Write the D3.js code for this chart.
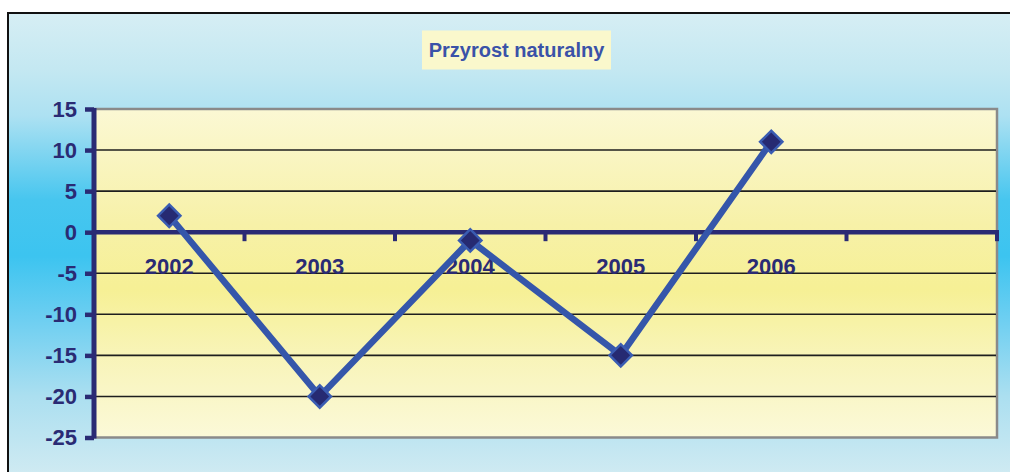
<!DOCTYPE html>
<html><head><meta charset="utf-8">
<script src="https://cdn.jsdelivr.net/npm/d3@7"></script>
<style>html,body{margin:0;padding:0;background:#fff;overflow:hidden}</style>
</head><body>
<svg id="c" width="1010" height="472"></svg>
<script>
const title = "Przyrost naturalny";
const categories = ["2002","2003","2004","2005","2006",""];
const years = ["2002","2003","2004","2005","2006"];
const values = [2, -20, -1, -15, 11];
const yTicks = [15, 10, 5, 0, -5, -10, -15, -20, -25];

const svg = d3.select("#c");
const defs = svg.append("defs");
const bg = defs.append("linearGradient").attr("id","bg").attr("gradientUnits","userSpaceOnUse")
  .attr("x1",0).attr("y1",13).attr("x2",0).attr("y2",480);
[[0,"#d6eef4"],[0.12,"#c4e8f2"],[0.22,"#ade1f2"],[0.4,"#47c6ef"],[0.52,"#3cc4f0"],[0.66,"#6fcff1"],[0.82,"#abdff0"],[1,"#d2ebf2"]]
  .forEach(([o,c])=>bg.append("stop").attr("offset",o).attr("stop-color",c));
const pg = defs.append("linearGradient").attr("id","pg").attr("gradientUnits","userSpaceOnUse")
  .attr("x1",0).attr("y1",109).attr("x2",0).attr("y2",437);
[[0,"#fbf8d4"],[0.35,"#f7f1a8"],[0.55,"#f6f095"],[0.75,"#f8f4b8"],[1,"#fbf9d8"]]
  .forEach(([o,c])=>pg.append("stop").attr("offset",o).attr("stop-color",c));

// chart background + frame
svg.append("rect").attr("x",8).attr("y",13).attr("width",1010).attr("height",480)
  .attr("fill","url(#bg)").attr("stroke","#111").attr("stroke-width",2);

const x = d3.scaleBand().domain(categories).range([94, 997]).paddingInner(0).paddingOuter(0);
const y = d3.scaleLinear().domain([-25, 15]).range([437.5, 109]);

// plot area
svg.append("rect").attr("x",94).attr("y",y(15)).attr("width",997-94).attr("height",y(-25)-y(15))
  .attr("fill","url(#pg)").attr("stroke","#8a8a8a").attr("stroke-width",2.5);

// gridlines
svg.append("g").selectAll("line").data(yTicks.filter(d=>d!==15 && d!==-25 && d!==0)).join("line")
  .attr("x1",94).attr("x2",996).attr("y1",d=>y(d)).attr("y2",d=>y(d))
  .attr("stroke","#1e1e1e").attr("stroke-width",1.6);

const navy = "#2a2b74";
const font = "Liberation Sans, Arial, sans-serif";
// y axis
const yAxis = d3.axisLeft(y).tickValues(yTicks).tickSize(9).tickPadding(8).tickFormat(d=>String(d));
const gy = svg.append("g").attr("transform","translate(94,0)").call(yAxis);
gy.select(".domain").attr("stroke",navy).attr("stroke-width",5).attr("d",`M0,${y(15)-1}V${y(-25)+1}`);
gy.selectAll(".tick line").attr("stroke",navy).attr("stroke-width",4.5);
gy.selectAll(".tick text").attr("fill",navy).attr("font-family",font)
  .attr("font-weight","bold").attr("font-size","22px");

// x axis at zero
const gx = svg.append("g").attr("transform",`translate(0,${y(0)})`);
gx.append("line").attr("x1",94).attr("x2",999).attr("y1",0).attr("y2",0)
  .attr("stroke",navy).attr("stroke-width",4.5);
const bounds = categories.map(c=>x(c)+x.bandwidth());
gx.selectAll("line.t").data(bounds).join("line").attr("class","t")
  .attr("x1",d=>d).attr("x2",d=>d).attr("y1",0).attr("y2",9)
  .attr("stroke",navy).attr("stroke-width",4);
gx.selectAll("text").data(categories.filter(c=>c!=="")).join("text")
  .attr("x",d=>x(d)+x.bandwidth()/2).attr("y",42)
  .attr("text-anchor","middle").attr("fill",navy)
  .attr("font-family",font).attr("font-weight","bold").attr("font-size","22px")
  .text(d=>d);

// line
const line = d3.line().x((d,i)=>x(years[i])+x.bandwidth()/2).y(d=>y(d));
svg.append("path").datum(values).attr("d",line).attr("fill","none")
  .attr("stroke","#3556aa").attr("stroke-width",6.5).attr("stroke-linejoin","miter");

// markers
const sym = d3.symbol().type(d3.symbolSquare).size(250);
svg.append("g").selectAll("path").data(values).join("path")
  .attr("d",sym)
  .attr("transform",(d,i)=>`translate(${x(years[i])+x.bandwidth()/2},${y(d)}) rotate(45)`)
  .attr("fill","#262a72").attr("stroke","#3a5cb2").attr("stroke-width",2.5);

// title
svg.append("rect").attr("x",422).attr("y",30.5).attr("width",189).attr("height",39).attr("fill","#faf8cc");
svg.append("text").attr("x",516.5).attr("y",57).attr("text-anchor","middle")
  .attr("fill","#3a52a8").attr("font-family",font)
  .attr("font-weight","bold").attr("font-size","20px").text(title);
</script>
</body></html>
